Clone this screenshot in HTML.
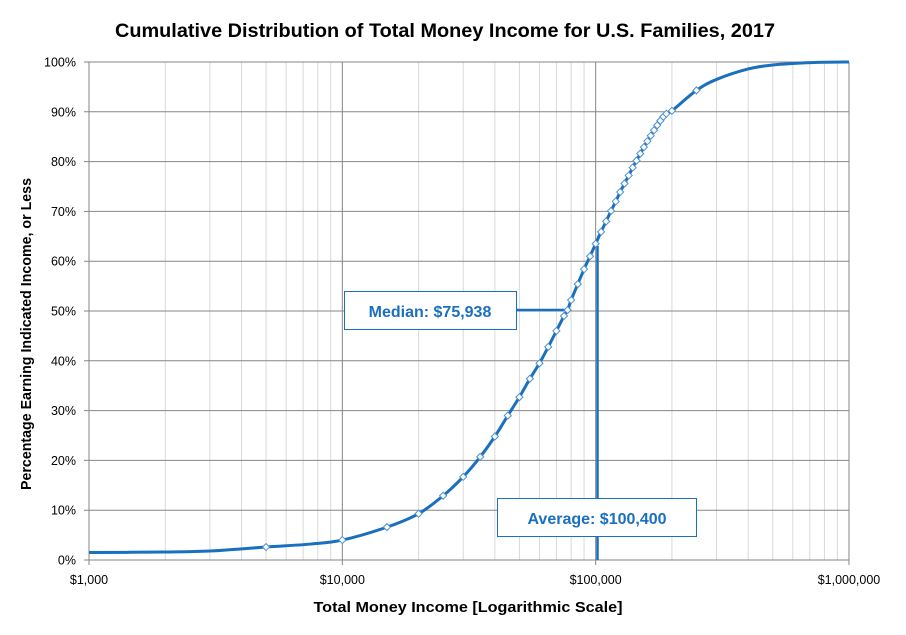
<!DOCTYPE html>
<html><head><meta charset="utf-8"><style>
body{margin:0;background:#fff;}
svg{display:block;font-family:"Liberation Sans",Calibri,sans-serif;}
</style></head><body>
<svg id="s" width="906" height="635" xmlns="http://www.w3.org/2000/svg">
<rect width="906" height="635" fill="#fff"/>
<g id="grid"></g>
<text x="445" y="37" text-anchor="middle" font-size="19.5" font-weight="bold" fill="#000" textLength="660" lengthAdjust="spacingAndGlyphs">Cumulative Distribution of Total Money Income for U.S. Families, 2017</text>
<text x="468" y="612" text-anchor="middle" font-size="15" font-weight="bold" fill="#000" textLength="309" lengthAdjust="spacingAndGlyphs">Total Money Income [Logarithmic Scale]</text>
<text transform="translate(31,334) rotate(-90)" text-anchor="middle" font-size="14.5" font-weight="bold" fill="#000" textLength="312" lengthAdjust="spacingAndGlyphs">Percentage Earning Indicated Income, or Less</text>
<g id="labels" font-size="12.5" fill="#000"></g>
<line x1="516" y1="310" x2="566" y2="310" stroke="#1a6fbf" stroke-width="2.5"/>
<line x1="597.5" y1="246" x2="597.5" y2="560" stroke="#1a6fbf" stroke-width="2.5"/>
<path id="curve" fill="none" stroke="#1a6fbf" stroke-width="3"/>
<g id="marks"></g>
<rect x="344.5" y="291.5" width="172" height="38" fill="#fff" stroke="#1a6fbf" stroke-width="1"/>
<text x="430" y="317" text-anchor="middle" font-size="16" font-weight="bold" fill="#1a6fbf">Median:  $75,938</text>
<rect x="497.5" y="498.5" width="199" height="38" fill="#fff" stroke="#1a6fbf" stroke-width="1"/>
<text x="597" y="524" text-anchor="middle" font-size="16" font-weight="bold" fill="#1a6fbf">Average: $100,400</text>
</svg>
<script>
var NS="http://www.w3.org/2000/svg";
function X(v){return 89+253.33*Math.log10(v/1000);}
function Y(p){return 560-4.98*p;}
function el(t,a,p){var e=document.createElementNS(NS,t);for(var k in a)e.setAttribute(k,a[k]);p.appendChild(e);return e;}
var g=document.getElementById('grid'),L=document.getElementById('labels');
for(var d=1000;d<1000000;d*=10)for(var m=2;m<10;m++){var x=X(d*m);el('line',{x1:x,x2:x,y1:62,y2:560,stroke:'#d9d9d9','stroke-width':1},g);}
for(var i=0;i<=10;i++){var y=Y(i*10);el('line',{x1:84,x2:849,y1:y,y2:y,stroke:'#868686','stroke-width':1},g);
var t=el('text',{x:76,y:y+4.5,'text-anchor':'end'},L);t.textContent=(i*10)+'%';}
var labs=['$1,000','$10,000','$100,000','$1,000,000'];
for(var i=0;i<4;i++){var x=X(1000*Math.pow(10,i));el('line',{x1:x,x2:x,y1:62,y2:565,stroke:'#868686','stroke-width':1},g);
var t=el('text',{x:x,y:584,'text-anchor':'middle'},L);t.textContent=labs[i];}
var P=[[1000,1.5],[2000,1.6],[3000,1.8],[5000,2.6],[7500,3.2],[10000,4],[15000,6.6],[20000,9.3],[25000,12.9],[30000,16.7],[35000,20.7],[40000,24.8],[45000,29],[50000,32.7],[55000,36.4],[60000,39.5],[65000,42.8],[70000,46],[75000,49],[77500,50.2],[80000,52.2],[85000,55.4],[90000,58.4],[95000,61],[100000,63.5],[105000,65.9],[110000,68],[115000,70.1],[120000,72],[125000,73.9],[130000,75.6],[135000,77.2],[140000,78.8],[145000,80.2],[150000,81.6],[155000,82.9],[160000,84.1],[165000,85.2],[170000,86.3],[175000,87.3],[180000,88.2],[185000,89],[190000,89.6],[200000,90.2],[250000,94.3],[300000,96.5],[400000,98.6],[500000,99.4],[650000,99.8],[800000,99.95],[1000000,100]];
var pts=P.map(function(p){return [X(p[0]),Y(p[1])];});
var dstr='M'+pts[0][0]+','+pts[0][1];
for(var i=0;i<pts.length-1;i++){var p0=pts[i-1]||pts[i],p1=pts[i],p2=pts[i+1],p3=pts[i+2]||p2;
dstr+=' C'+(p1[0]+(p2[0]-p0[0])/6)+','+(p1[1]+(p2[1]-p0[1])/6)+' '+(p2[0]-(p3[0]-p1[0])/6)+','+(p2[1]-(p3[1]-p1[1])/6)+' '+p2[0]+','+p2[1];}
document.getElementById('curve').setAttribute('d',dstr);
var M=document.getElementById('marks');
P.forEach(function(p){if(p[0]<5000||p[0]>250000||p[0]==7500)return;var x=X(p[0]),y=Y(p[1]),r=3.5;
el('polygon',{points:x+','+(y-r)+' '+(x+r)+','+y+' '+x+','+(y+r)+' '+(x-r)+','+y,fill:'#fff',stroke:'#4a90d0','stroke-width':1},M);});
</script>
</body></html>
